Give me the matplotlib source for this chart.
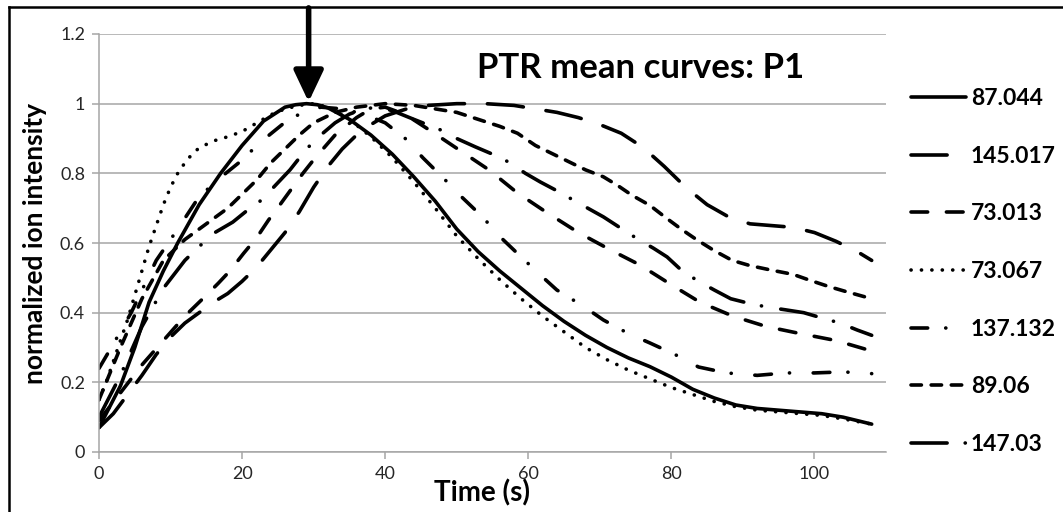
import matplotlib
matplotlib.use('Agg')
import matplotlib.pyplot as plt
from matplotlib.lines import Line2D

plt.rcParams['font.family'] = ['Lato', 'DejaVu Sans']
plt.rcParams['lines.scale_dashes'] = False

# PTR mean curves (time in s, normalized intensity)
t_87044 = [0, 3, 5, 7, 9, 11, 14, 17, 20, 23, 26, 27.5, 29, 30.5, 32, 35, 38, 41, 44, 47, 50, 53, 56, 59,
           62, 65, 68, 71, 74, 77, 80, 83, 86, 89, 92, 95, 98, 101, 104, 108]
v_87044 = [0.07, 0.19, 0.30, 0.43, 0.52, 0.60, 0.71, 0.80, 0.88, 0.95, 0.99, 0.997, 1.0, 0.997, 0.988, 0.955,
           0.91, 0.855, 0.79, 0.72, 0.64, 0.575, 0.52, 0.47, 0.42, 0.375, 0.335, 0.30, 0.27, 0.245, 0.215,
           0.18, 0.155, 0.135, 0.125, 0.12, 0.115, 0.11, 0.10, 0.08]

t_145017 = [0, 2, 4, 6, 8, 10, 12, 14, 16, 18, 20, 22, 24, 26, 28, 30, 32, 34, 36, 38, 40, 43, 46, 50, 54,
            58, 61, 64, 67, 70, 73, 76, 79, 82, 85, 88, 91, 94, 97, 100, 103, 106, 108]
v_145017 = [0.07, 0.11, 0.165, 0.22, 0.28, 0.33, 0.37, 0.40, 0.43, 0.455, 0.49, 0.53, 0.58, 0.63, 0.69,
            0.76, 0.82, 0.87, 0.91, 0.94, 0.965, 0.985, 0.995, 1.0, 1.0, 0.995, 0.985, 0.975, 0.96, 0.94,
            0.915, 0.875, 0.82, 0.76, 0.71, 0.675, 0.655, 0.65, 0.645, 0.63, 0.605, 0.575, 0.55]

t_73013 = [0, 3, 6, 9, 12, 15, 16.7, 18.3, 20.2, 22.1, 23.7, 25.3, 27, 28.5, 30.2, 33, 36, 38, 40, 42, 43.5,
           46.5, 50.5, 54.5, 58.4, 62.4, 67, 71.5, 75.6, 80, 84, 88.6, 93.3, 98, 103, 108]
v_73013 = [0.09, 0.17, 0.25, 0.32, 0.39, 0.45, 0.485, 0.52, 0.57, 0.617, 0.666, 0.71, 0.758, 0.80, 0.844,
           0.91, 0.96, 0.985, 0.99, 0.975, 0.96, 0.92, 0.865, 0.81, 0.745, 0.69, 0.63, 0.58, 0.537, 0.48,
           0.43, 0.39, 0.36, 0.34, 0.32, 0.29]

t_73067 = [0, 1, 2, 3, 4, 5, 6, 7, 8, 9, 10, 11, 12, 13, 14, 16, 18, 20, 22, 24, 26, 28, 30, 32, 35, 38, 41,
           44, 47, 50, 53, 56, 59, 62, 65, 68, 71, 74, 77, 80, 83, 86, 89, 92, 95, 98, 101, 104, 108]
v_73067 = [0.15, 0.2, 0.26, 0.32, 0.38, 0.45, 0.52, 0.59, 0.65, 0.71, 0.76, 0.80, 0.83, 0.855, 0.873, 0.893,
           0.905, 0.92, 0.944, 0.968, 0.985, 0.995, 1.0, 0.99, 0.955, 0.905, 0.845, 0.775, 0.70, 0.62, 0.555,
           0.495, 0.44, 0.39, 0.345, 0.30, 0.265, 0.235, 0.21, 0.185, 0.165, 0.145, 0.13, 0.12, 0.115, 0.11,
           0.105, 0.095, 0.08]

t_137132 = [0, 2, 4.5, 8, 11, 13.9, 16.5, 19.7, 22.6, 25.6, 28, 31, 34, 37, 40, 42.8, 45.3, 48.2, 50.8, 53.6,
            56.1, 59, 61.7, 64, 66, 68.3, 70.5, 74, 77, 80.5, 83.8, 87.7, 92, 96, 100, 104, 108]
v_137132 = [0.24, 0.31, 0.40, 0.55, 0.64, 0.73, 0.78, 0.833, 0.89, 0.94, 0.97, 0.99, 0.985, 0.97, 0.945,
            0.90, 0.844, 0.785, 0.73, 0.675, 0.617, 0.56, 0.508, 0.465, 0.44, 0.41, 0.379, 0.34, 0.313,
            0.28, 0.244, 0.227, 0.22, 0.227, 0.227, 0.23, 0.225]

t_8906 = [0, 3, 6, 9, 12, 14, 16, 18, 20, 22, 24, 26, 28, 30, 33, 36, 40, 44, 47, 50, 53, 56, 58.5, 61, 63,
          65.5, 68, 70.5, 72.5, 74.5, 77, 79.2, 81.5, 83.5, 86, 88.5, 91, 94, 97, 99.5, 102, 104.5, 108]
v_8906 = [0.15, 0.30, 0.44, 0.55, 0.61, 0.64, 0.67, 0.70, 0.74, 0.78, 0.83, 0.87, 0.91, 0.945, 0.975, 0.99,
          1.0, 0.995, 0.985, 0.975, 0.955, 0.935, 0.915, 0.88, 0.86, 0.835, 0.81, 0.79, 0.765, 0.737, 0.708,
          0.673, 0.638, 0.61, 0.578, 0.55, 0.535, 0.522, 0.51, 0.492, 0.475, 0.46, 0.44]

t_14703 = [0, 3, 6, 9, 12, 14, 16.2, 18.7, 20.5, 22.5, 24.4, 26.7, 29, 31, 33, 35, 37, 39, 41, 44, 47.7, 50,
           52.6, 55, 57.2, 59.6, 61.7, 64, 67, 70.5, 72.9, 75.4, 77.5, 79.4, 81.5, 83.8, 86, 88.3, 90.8, 93.4,
           96, 98.5, 101, 103.6, 106, 108]
v_14703 = [0.10, 0.22, 0.36, 0.47, 0.55, 0.59, 0.63, 0.66, 0.69, 0.72, 0.76, 0.81, 0.87, 0.91, 0.945, 0.97,
           0.985, 0.99, 0.98, 0.955, 0.925, 0.90, 0.876, 0.855, 0.833, 0.80, 0.775, 0.75, 0.715, 0.675, 0.643,
           0.61, 0.585, 0.56, 0.52, 0.49, 0.465, 0.44, 0.427, 0.416, 0.408, 0.40, 0.385, 0.37, 0.35, 0.335]

labels = ['87.044', '145.017', '73.013', '73.067', '137.132', '89.06', '147.03']
series = [(t_87044, v_87044), (t_145017, v_145017), (t_73013, v_73013), (t_73067, v_73067),
          (t_137132, v_137132), (t_8906, v_8906), (t_14703, v_14703)]

# dash patterns in points (round caps stretch each dash by one line width)
lw = 2.6
styles = [
    dict(linestyle='-'),
    dict(dashes=(26, 16.5)),
    dict(dashes=(12, 13.5)),
    dict(dashes=(0.1, 7.4)),
    dict(dashes=(12, 13, 0.1, 17)),
    dict(dashes=(7.5, 7)),
    dict(dashes=(26, 13, 0.1, 14)),
]

fig = plt.figure(figsize=(10.63, 5.12), dpi=100)
ax = fig.add_axes([99 / 1063, 60 / 512, 787 / 1063, 418 / 512])

grey = '#a6a6a6'
handles = []
for (t, v), lab, st in zip(series, labels, styles):
    ln, = ax.plot(t, v, color='black', lw=lw, label=lab, dash_capstyle='round',
                  solid_capstyle='round', **st)
    handles.append(ln)

ax.set_xlim(0, 110)
ax.set_ylim(0, 1.2)
ax.set_xticks([0, 20, 40, 60, 80, 100])
ax.set_yticks([0, 0.2, 0.4, 0.6, 0.8, 1.0, 1.2])
ax.set_yticklabels(['0', '0.2', '0.4', '0.6', '0.8', '1', '1.2'])
ax.yaxis.grid(True, color=grey, lw=1.1)
ax.set_axisbelow(True)

for s in ['top', 'right']:
    ax.spines[s].set_visible(False)
for s in ['left', 'bottom']:
    ax.spines[s].set_color(grey)
    ax.spines[s].set_linewidth(1.1)
ax.tick_params(axis='both', direction='out', length=5, width=1.1, color=grey,
               labelsize=13, labelcolor='#262626', pad=5)

fig.text(482 / 1063, 1 - 493 / 512, 'Time (s)', fontsize=20, fontweight='bold',
         ha='center', va='center')
fig.text(35 / 1063, 1 - 243 / 512, 'normalized ion intensity', fontsize=19, fontweight='bold',
         rotation=90, ha='center', va='center')
fig.text(641 / 1063, 1 - 68 / 512, 'PTR mean curves: P1', fontsize=25, fontweight='bold',
         ha='center', va='center')

# arrow marking the peak of 87.044
ax.annotate('', xy=(29.3, 1.005), xytext=(29.3, 1.275), annotation_clip=False,
            arrowprops=dict(arrowstyle='-|>,head_length=0.95,head_width=0.45', lw=4,
                            color='black', mutation_scale=20, shrinkA=0, shrinkB=0))

ax.legend(handles=handles, loc='upper left', bbox_to_anchor=(911 / 1063, 1 - 88 / 512),
          bbox_transform=fig.transFigure, frameon=False, prop=dict(size=16.5, weight='bold'),
          handlelength=2.42, handletextpad=0.2, labelspacing=1.6, borderpad=0, borderaxespad=0)

# frame around the picture (left and top edges visible)
fig.add_artist(Line2D([9 / 1063, 9 / 1063], [0, 1 - 7 / 512], color='black', lw=1.8))
fig.add_artist(Line2D([9 / 1063, 1], [1 - 7 / 512, 1 - 7 / 512], color='black', lw=1.8))

fig.savefig('out.png', dpi=100)
